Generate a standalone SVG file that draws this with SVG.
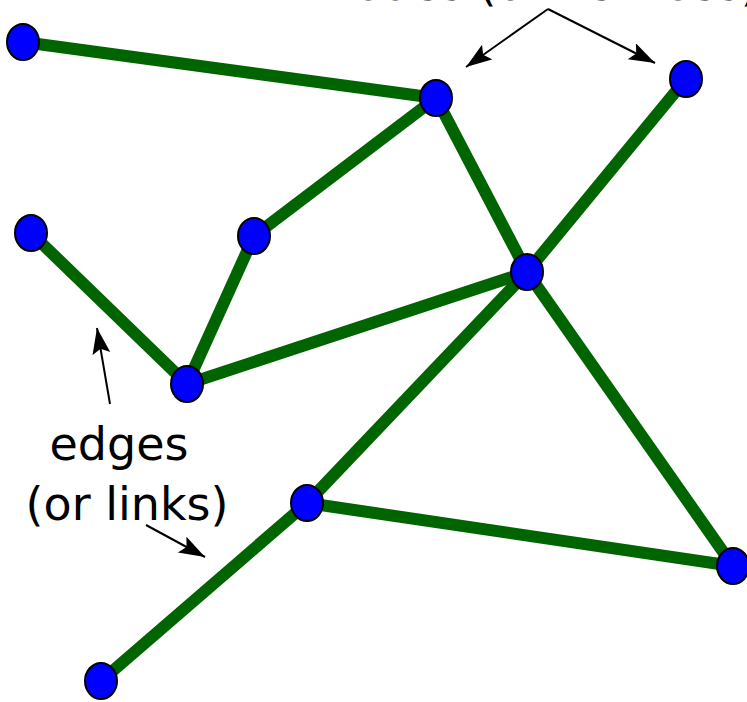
<svg xmlns="http://www.w3.org/2000/svg" width="747" height="702" viewBox="0 0 747 702">
  <defs>
    <style>
      .edge { stroke: #006400; stroke-width: 12; stroke-linecap: butt; }
      .node { fill: #0000ff; stroke: #000; stroke-width: 2; }
      .ptr { stroke: #000; stroke-width: 2; fill: none; }
      .lbl { font-family: "DejaVu Sans", sans-serif; font-size: 46px; fill: #000; }
    </style>
    <marker id="ah" markerUnits="userSpaceOnUse" markerWidth="28" markerHeight="20" refX="26" refY="9" orient="auto">
      <path d="M0,0 L26,9 L0,18 L5,9 Z" fill="#000"/>
    </marker>
  </defs>
  <rect width="747" height="702" fill="#fff"/>
  <g id="connectors">
    <line class="edge" x1="23" y1="42" x2="436" y2="98"/>
    <line class="edge" x1="436" y1="98" x2="254" y2="236"/>
    <line class="edge" x1="436" y1="98" x2="527" y2="272"/>
    <line class="edge" x1="686" y1="79" x2="527" y2="272"/>
    <line class="edge" x1="31" y1="233" x2="187" y2="384"/>
    <line class="edge" x1="254" y1="236" x2="187" y2="384"/>
    <line class="edge" x1="187" y1="384" x2="527" y2="272"/>
    <line class="edge" x1="527" y1="272" x2="307" y2="503"/>
    <line class="edge" x1="527" y1="272" x2="733" y2="566"/>
    <line class="edge" x1="307" y1="503" x2="733" y2="566"/>
    <line class="edge" x1="307" y1="503" x2="101" y2="681"/>
  </g>
  <g id="pointers">
    <line class="ptr" x1="548" y1="9" x2="466" y2="67" marker-end="url(#ah)"/>
    <line class="ptr" x1="548" y1="9" x2="655" y2="63" marker-end="url(#ah)"/>
    <line class="ptr" x1="110" y1="404" x2="97" y2="328" marker-end="url(#ah)"/>
    <line class="ptr" x1="146" y1="525" x2="205" y2="557" marker-end="url(#ah)"/>
  </g>
  <g id="n1"><ellipse class="node" cx="23" cy="42" rx="16" ry="18"/></g>
  <g id="n2"><ellipse class="node" cx="436" cy="98" rx="16" ry="18"/></g>
  <g id="n3"><ellipse class="node" cx="686" cy="79" rx="16" ry="18"/></g>
  <g id="n4"><ellipse class="node" cx="254" cy="236" rx="16" ry="18"/></g>
  <g id="n5"><ellipse class="node" cx="31" cy="233" rx="16" ry="18"/></g>
  <g id="n6"><ellipse class="node" cx="527" cy="272" rx="16" ry="18"/></g>
  <g id="n7"><ellipse class="node" cx="187" cy="384" rx="16" ry="18"/></g>
  <g id="n8"><ellipse class="node" cx="307" cy="503" rx="16" ry="18"/></g>
  <g id="n9"><ellipse class="node" cx="733" cy="566" rx="16" ry="18"/></g>
  <g id="n10"><ellipse class="node" cx="101" cy="681" rx="16" ry="18"/></g>
  <g id="labels">
    <text class="lbl" x="325" y="0">nodes (or vertices)</text>
    <text class="lbl" x="119" y="460" text-anchor="middle">edges</text>
    <text class="lbl" x="127" y="520" text-anchor="middle">(or links)</text>
  </g>
</svg>
